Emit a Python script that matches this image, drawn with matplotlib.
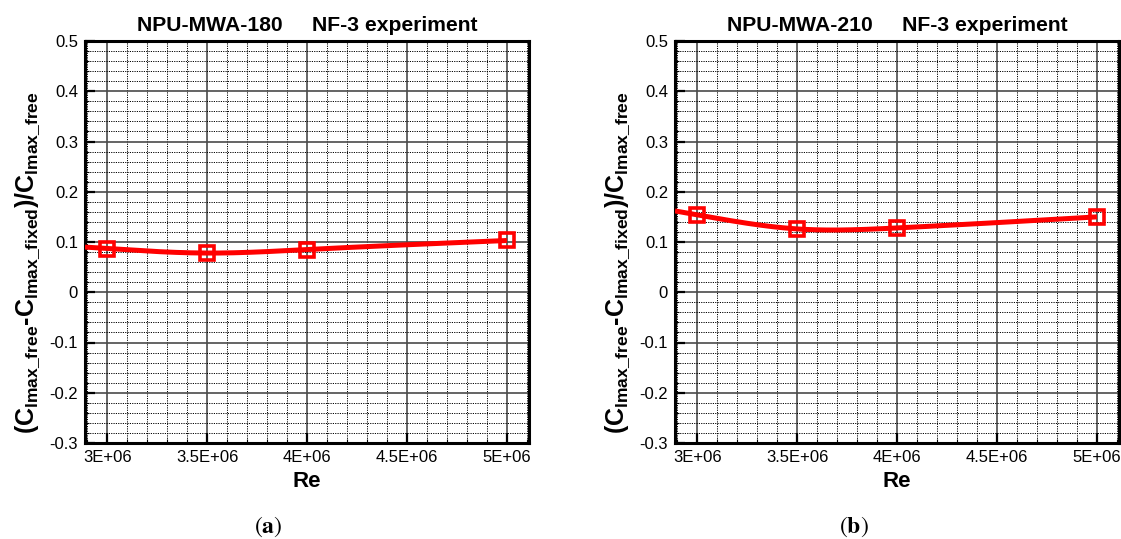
import numpy as np
import matplotlib
matplotlib.use('Agg')
import matplotlib.pyplot as plt
from matplotlib.ticker import MultipleLocator, FixedLocator

plt.rcParams['font.family'] = ['Liberation Sans', 'DejaVu Sans']
plt.rcParams['mathtext.fontset'] = 'custom'
plt.rcParams['mathtext.rm'] = 'Liberation Sans:bold'
plt.rcParams['mathtext.it'] = 'Liberation Sans:bold'
plt.rcParams['mathtext.bf'] = 'Liberation Sans:bold'

# datos
re_vals = np.array([3.0e6, 3.5e6, 4.0e6, 5.0e6])
delta_180 = np.array([0.087, 0.078, 0.085, 0.103])
delta_210 = np.array([0.154, 0.126, 0.128, 0.150])

xticks = [3.0e6, 3.5e6, 4.0e6, 4.5e6, 5.0e6]
xtick_labels = ['3E+06', '3.5E+06', '4E+06', '4.5E+06', '5E+06']
yticks = [-0.3, -0.2, -0.1, 0, 0.1, 0.2, 0.3, 0.4, 0.5]
ytick_labels = ['-0.3', '-0.2', '-0.1', '0', '0.1', '0.2', '0.3', '0.4', '0.5']

titles = ['NPU-MWA-180     NF-3 experiment', 'NPU-MWA-210     NF-3 experiment']
captions = ['a', 'b']
ylabel = r'$(C_{lmax\_free}\text{-}C_{lmax\_fixed})/C_{lmax\_free}$'

W, H = 1121, 539
fig = plt.figure(figsize=(W / 100, H / 100), dpi=100)

xmin, xmax = 2.888e6, 5.11e6


def spline_natural(x, y, xq):
    # spline cubico natural para dibujar la curva suave entre los puntos
    n = len(x)
    h = np.diff(x)
    A = np.zeros((n, n))
    b = np.zeros(n)
    A[0, 0] = A[-1, -1] = 1
    for i in range(1, n - 1):
        A[i, i - 1] = h[i - 1]
        A[i, i] = 2 * (h[i - 1] + h[i])
        A[i, i + 1] = h[i]
        b[i] = 6 * ((y[i + 1] - y[i]) / h[i] - (y[i] - y[i - 1]) / h[i - 1])
    M = np.linalg.solve(A, b)
    k = np.clip(np.searchsorted(x, xq) - 1, 0, n - 2)
    t0 = x[k + 1] - xq
    t1 = xq - x[k]
    hk = h[k]
    return (M[k] * t0 ** 3 / (6 * hk) + M[k + 1] * t1 ** 3 / (6 * hk)
            + (y[k] / hk - M[k] * hk / 6) * t0
            + (y[k + 1] / hk - M[k + 1] * hk / 6) * t1)


paneles = [
    (85, delta_180, titles[0], captions[0], 268),
    (675, delta_210, titles[1], captions[1], 854),
]

for left_px, datos, titulo, cap, cap_x in paneles:
    ax = fig.add_axes([left_px / W, 1 - 443 / H, 444 / W, 402 / H])
    ax.set_xlim(xmin, xmax)
    ax.set_ylim(-0.3, 0.5)

    ax.xaxis.set_major_locator(FixedLocator(xticks))
    ax.set_xticklabels(xtick_labels)
    ax.yaxis.set_major_locator(FixedLocator(yticks))
    ax.set_yticklabels(ytick_labels)
    ax.xaxis.set_minor_locator(MultipleLocator(1e5))
    ax.yaxis.set_minor_locator(MultipleLocator(0.02))

    ax.grid(which='major', color='#4a4a4a', linestyle='-', linewidth=1.2)
    ax.grid(which='minor', color='black', linestyle=(0, (1.2, 1.2)), linewidth=0.7)
    ax.set_axisbelow(True)

    ax.tick_params(which='major', direction='in', length=7, width=1.6,
                   labelsize=12, pad=5, top=False, right=False)
    ax.tick_params(which='minor', direction='in', length=3, width=0.8,
                   top=False, right=False)
    for s in ax.spines.values():
        s.set_linewidth(2.2)

    xs = np.linspace(xmin, re_vals.max(), 200)
    ax.plot(xs, spline_natural(re_vals / 1e6, datos, xs / 1e6), color='red',
            linewidth=3.6, zorder=3, solid_capstyle='butt')
    ax.plot(re_vals, datos, linestyle='none', marker='s', markersize=9.5,
            markerfacecolor='none', markeredgecolor='red', markeredgewidth=2.6,
            zorder=4, clip_on=False)

    ax.set_title(titulo, fontsize=15.2, fontweight='bold', pad=7)
    ax.set_xlabel('Re', fontsize=16, fontweight='bold')
    ax.xaxis.set_label_coords(0.5, -0.097)
    ax.xaxis.label.set_va('center')
    ax.set_ylabel(ylabel, fontsize=18)
    ax.yaxis.set_label_coords(-0.1306, 0.448)
    ax.yaxis.label.set_va('center')

    fig.text(cap_x / W, 1 - 527 / H, r'$(\mathbf{' + cap + r'})$',
             math_fontfamily='stix', fontsize=17, ha='center', va='center')

fig.savefig('out.png', dpi=100)
